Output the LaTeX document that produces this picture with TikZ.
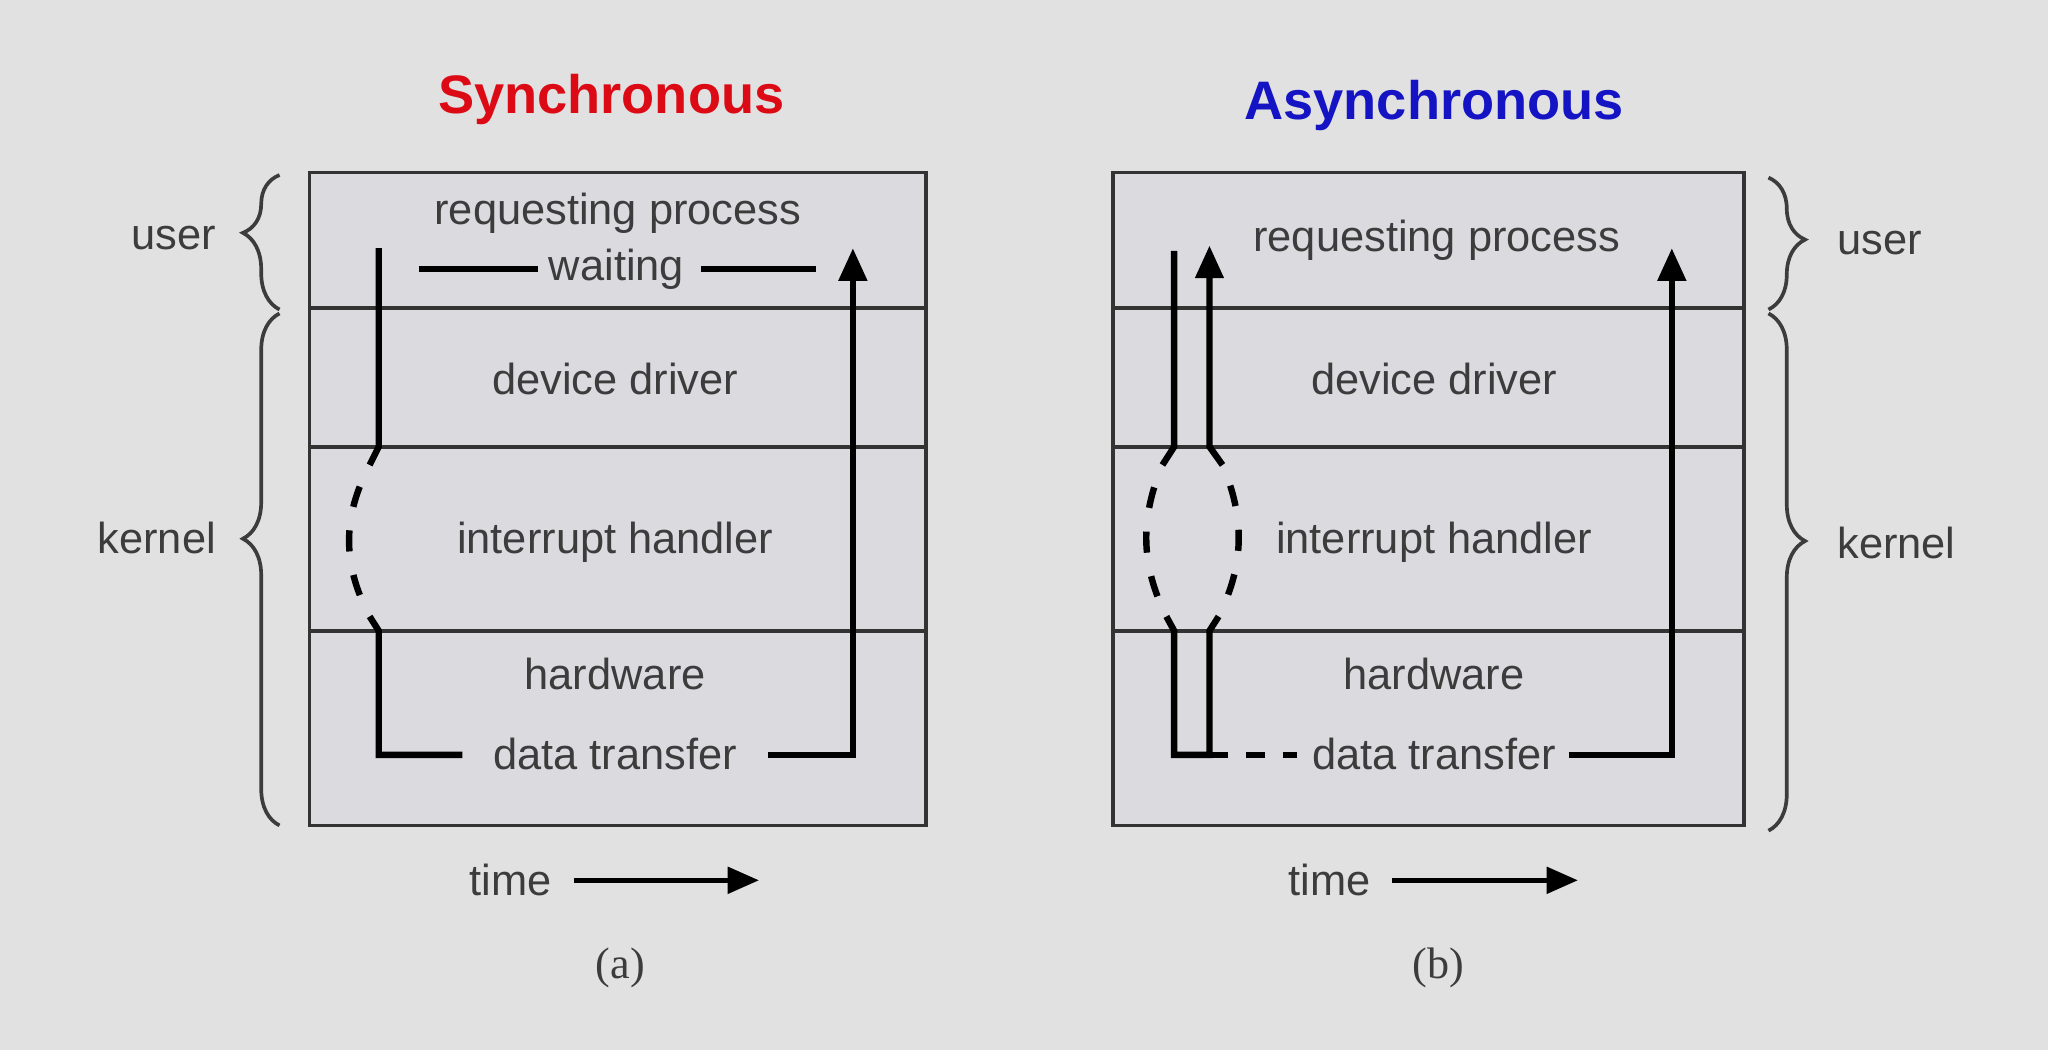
\documentclass[tikz,border=0pt]{standalone}
\usepackage{fontspec}
\setmainfont{Liberation Sans}
\newfontfamily\capfont{Liberation Serif}
\usetikzlibrary{arrows.meta,decorations.pathreplacing}

\definecolor{slidebg}{HTML}{E1E1E1}
\definecolor{layerfill}{HTML}{DBDBDF}
\definecolor{inkgray}{HTML}{3C3C3C}
\definecolor{syncred}{HTML}{DC0A14}
\definecolor{asyncblue}{HTML}{1414C4}

\tikzset{
    layer/.style={draw=inkgray!85!black,line width=0.8pt},
    lbl/.style={text=inkgray,font=\fontsize{9.45}{11}\selectfont,inner sep=0pt},
    title/.style={font=\fontsize{11.8}{14}\selectfont\bfseries,inner sep=0pt},
    caption/.style={text=inkgray,font=\capfont\fontsize{9.6}{11}\selectfont,inner sep=0pt},
    flow/.style={black,line width=1.4pt},
    flowarrow/.style={flow,-{Triangle[length=0.25cm,width=0.21cm]}},
    dashpart/.style={dash pattern=on 4.6pt off 5.2pt,dash phase=4.6pt},
    timearrow/.style={black,line width=1.1pt,-{Triangle[length=0.24cm,width=0.2cm]}},
    sidebrace/.style={draw=inkgray,line width=0.8pt,decorate,
        decoration={brace,amplitude=0.28cm,aspect=#1}},
}

\begin{document}
\begin{tikzpicture}[x=0.01cm,y=-0.01cm]
    \fill[slidebg] (0,0) rectangle (1568,804);
    \useasboundingbox (0,0) rectangle (1568,804);

    \node[title,text=syncred] (titleA) at (468,76) {Synchronous};
    \node[title,text=asyncblue] (titleB) at (1098,81) {Asynchronous};

    % layer stacks
    \foreach \xl/\xr in {237/709,852/1335}{
        \fill[layerfill] (\xl,132) rectangle (\xr,632);
        \draw[layer] (\xl,132) rectangle (\xr,632);
        \foreach \ry in {236,342,483}
            \draw[layer] (\xl,\ry) -- (\xr,\ry);
    }

    \foreach \mytext/\myy/\myname in {device driver/290/dd,interrupt handler/415/ih,hardware/516/hw,data transfer/577/dt}{
        \node[lbl] (\myname-A) at (471,\myy) {\mytext};
        \node[lbl] (\myname-B) at (1098,\myy) {\mytext};
    }
    \node[lbl] (rp-A) at (473,163) {requesting process};
    \node[lbl] (wait-A) at (472,206) {waiting};
    \node[lbl] (rp-B) at (1100,184) {requesting process};

    % user / kernel
    \node[lbl,anchor=east] (userA) at (166,182) {user};
    \node[lbl,anchor=east] (kernelA) at (166,412) {kernel};
    \node[lbl,anchor=west] (userB) at (1406,186) {user};
    \node[lbl,anchor=west] (kernelB) at (1406,416) {kernel};
    \draw[sidebrace=0.57] (214,237) -- (214,134);
    \draw[sidebrace=0.56] (214,632) -- (214,240);
    \draw[sidebrace=0.47] (1354,136) -- (1354,237);
    \draw[sidebrace=0.44] (1354,240) -- (1354,636);

    \foreach \px/\py/\pname in {290/190/sA1,290/342/sA2,283/356/sA3,283/472/sA4,290/483/sA5,
        290/578/sA6,354/578/sA7,588/578/rA1,653/578/rA2,653/190/rA3,
        321/206/wA1,412/206/wA2,537/206/wA3,625/206/wA4}{
        \coordinate (\pname) at (\px,\py);
    }
    \foreach \px/\py/\pname in {899/192/sB1,899/342/sB2,890/356/sB3,893/472/sB4,899/483/sB5,
        899/578/sB6,926/578/tB1,926/483/tB2,933/472/tB3,936/356/tB4,926/342/tB5,926/188/tB6,
        993/578/dB,1201/578/rB1,1280/578/rB2,1280/190/rB3}{
        \coordinate (\pname) at (\px,\py);
    }

    % (a) synchronous
    \draw[flow] (sA1) -- (sA2) -- (sA3);
    \draw[flow,dashpart] (sA3) .. controls +(-21,40) and +(-21,-40) .. (sA4);
    \draw[flow] (sA4) -- (sA5) -- (sA6) -- (sA7);
    \draw[flowarrow] (rA1) -- (rA2) -- (rA3);
    \draw[flow] (wA1) -- (wA2);
    \draw[flow] (wA3) -- (wA4);

    % (b) asynchronous
    \draw[flow] (sB1) -- (sB2) -- (sB3);
    \draw[flow,dashpart] (sB3) .. controls +(-17,40) and +(-20,-40) .. (sB4);
    \draw[flow] (sB4) -- (sB5) -- (sB6) -- (tB1) -- (tB2) -- (tB3);
    \draw[flow,dashpart] (tB3) .. controls +(20,-40) and +(17,40) .. (tB4);
    \draw[flowarrow] (tB4) -- (tB5) -- (tB6);
    \draw[flow,dash pattern=on 4pt off 4pt] (tB1) -- (dB);
    \draw[flowarrow] (rB1) -- (rB2) -- (rB3);

    % time axes
    \node[lbl] (timeA) at (391,674) {time};
    \node[lbl] (timeB) at (1018,674) {time};
    \draw[timearrow] ([xshift=0.16cm]timeA.east) -- ++(142,0);
    \draw[timearrow] ([xshift=0.16cm]timeB.east) -- ++(142,0);

    \node[caption] (capA) at (475,741) {(a)};
    \node[caption] (capB) at (1101,741) {(b)};
\end{tikzpicture}
\end{document}
